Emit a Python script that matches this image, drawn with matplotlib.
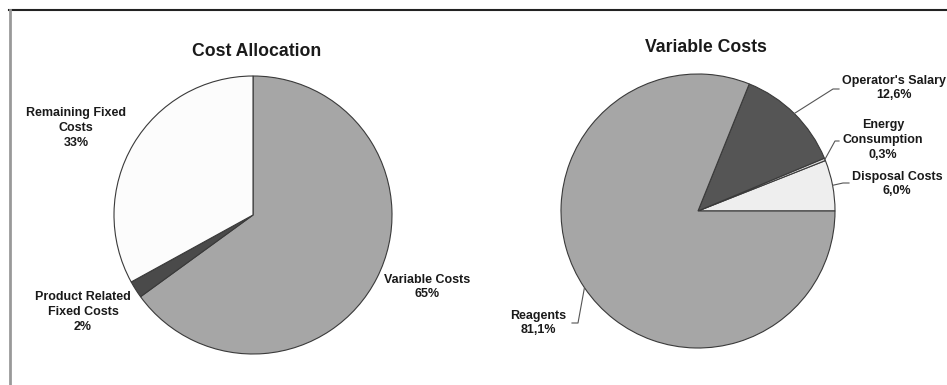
import numpy as np
import matplotlib
matplotlib.use('Agg')
import matplotlib.pyplot as plt
from matplotlib.lines import Line2D

plt.rcParams['font.family'] = ['Liberation Sans', 'DejaVu Sans']

# left chart data
alloc_labels = ['Variable Costs\n65%', 'Product Related\nFixed Costs\n2%', 'Remaining Fixed\nCosts\n33%']
alloc_values = [65, 2, 33]
alloc_colors = ['#a6a6a6', '#4a4a4a', '#fcfcfc']

# right chart data
var_labels = ['Disposal Costs\n6,0%', 'Energy\nConsumption\n0,3%', "Operator's Salary\n12,6%", 'Reagents\n81,1%']
var_values = [6.0, 0.3, 12.6, 81.1]
var_colors = ['#eeeeee', '#d8d8d8', '#555555', '#a6a6a6']

W, H = 947, 385
fig = plt.figure(figsize=(W / 100, H / 100), dpi=100)
fig.patch.set_facecolor('white')


def pie_axes(cx, cy, r):
    # square axes exactly around the pie, given in pixels
    return fig.add_axes([(cx - r) / W, 1 - (cy + r) / H, 2 * r / W, 2 * r / H])


def px(cx, cy, r, x, y):
    return (x - cx) / r, (cy - y) / r


# frame (only top and left edges visible)
fig.add_artist(Line2D([9 / W, 1], [1 - 10 / H] * 2, color='#222222', lw=1.5))
fig.add_artist(Line2D([10 / W] * 2, [0, 1 - 10 / H], color='#999999', lw=2))

edge = dict(edgecolor='#3a3a3a', linewidth=0.8)
fs = 9

# ---- Cost Allocation ----
c1 = (253, 215, 139)
ax1 = pie_axes(*c1)
ax1.pie(alloc_values, colors=alloc_colors, startangle=90, counterclock=False,
        wedgeprops=edge)
ax1.set_xlim(-1, 1)
ax1.set_ylim(-1, 1)
ax1.set_aspect('auto')
pos1 = [(427, 287), (83, 312), (76, 128)]
for lab, (x, y) in zip(alloc_labels, pos1):
    tx, ty = px(*c1, x, y)
    ax1.text(tx, ty, lab, ha='center', va='center', fontsize=fs,
             fontweight='bold', linespacing=1.3, color='#1a1a1a')
fig.text(257 / W, 1 - 52 / H, 'Cost Allocation', ha='center', va='center',
         fontsize=12.7, fontweight='bold', color='#1a1a1a')

# ---- Variable Costs ----
c2 = (698, 211, 137)
ax2 = pie_axes(*c2)
ax2.pie(var_values, colors=var_colors, startangle=0, counterclock=True,
        wedgeprops=edge)
ax2.set_xlim(-1, 1)
ax2.set_ylim(-1, 1)
ax2.set_aspect('auto')

# label centre, elbow, end of horizontal leader (pixels)
layout2 = [
    ((897, 184), (843, 183), (849, 183)),
    ((883, 140), (835, 141), (839, 141)),
    ((894, 88), (833, 89), (839, 89)),
    ((538, 323), (578, 323), (572, 323)),
]
cum = np.cumsum([0] + var_values)
total = sum(var_values)
for i, (lab, (tpos, elbow, tend)) in enumerate(zip(var_labels, layout2)):
    mid = np.deg2rad((cum[i] + cum[i + 1]) / 2 / total * 360)
    ex, ey = np.cos(mid), np.sin(mid)
    bx, by = px(*c2, *elbow)
    hx, hy = px(*c2, *tend)
    ax2.plot([ex, bx, hx], [ey, by, hy], color='#555555', lw=0.8,
             clip_on=False)
    tx, ty = px(*c2, *tpos)
    ax2.text(tx, ty, lab, ha='center', va='center', fontsize=fs,
             fontweight='bold', linespacing=1.3, color='#1a1a1a')
fig.text(706 / W, 1 - 47 / H, 'Variable Costs', ha='center', va='center',
         fontsize=12.7, fontweight='bold', color='#1a1a1a')

fig.savefig('out.png', dpi=100)
